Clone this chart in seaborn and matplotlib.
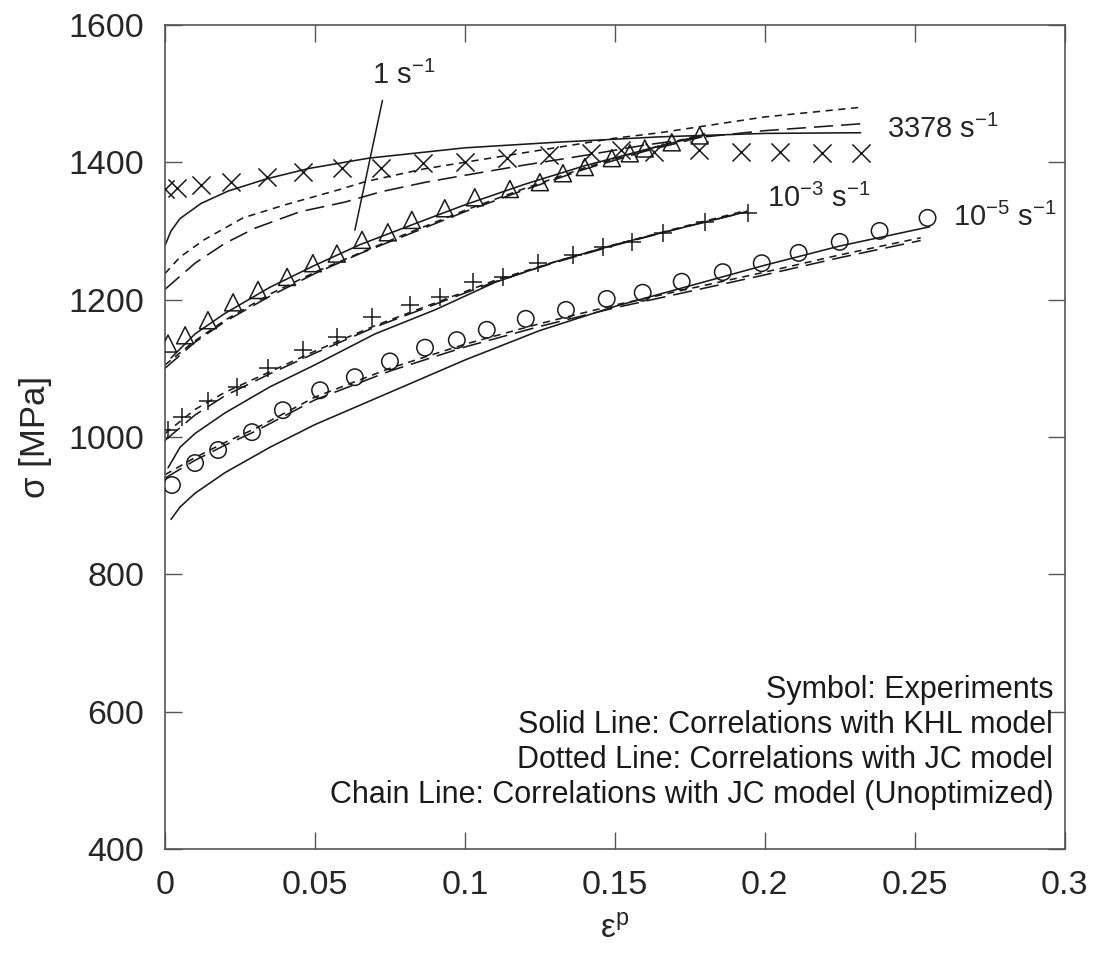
import numpy as np
import pandas as pd
import matplotlib
matplotlib.use("Agg")
import matplotlib.pyplot as plt
import seaborn as sns

# ---------------- data ----------------
# Experiments
x_3378 = [0.000, 0.004, 0.012, 0.022, 0.034, 0.046, 0.059, 0.072, 0.086, 0.100,
          0.114, 0.128, 0.142, 0.152, 0.163, 0.178, 0.192, 0.205, 0.219, 0.232]
y_3378 = [1361, 1362, 1367, 1371, 1378, 1386, 1392, 1392, 1399, 1400,
          1406, 1410, 1413, 1418, 1415, 1418, 1415, 1415, 1413, 1413]

x_1 = [0.001, 0.0067, 0.0143, 0.0227, 0.031, 0.0407, 0.0493, 0.0573, 0.0657, 0.0743, 0.0823,
       0.0933, 0.1033, 0.115, 0.125, 0.1327, 0.140, 0.149, 0.155, 0.160, 0.169, 0.1783]
y_1 = [1136, 1148, 1170, 1196, 1214, 1233, 1253, 1267, 1287, 1298, 1316,
       1333, 1349, 1361, 1371, 1384, 1393, 1406, 1413, 1420, 1429, 1439]

x_1e3 = [0.001, 0.0057, 0.0143, 0.024, 0.0343, 0.046, 0.0573, 0.069, 0.0817, 0.0917,
         0.1027, 0.1127, 0.1243, 0.136, 0.146, 0.1557, 0.166, 0.180, 0.1943]
y_1e3 = [1010, 1029, 1053, 1072, 1100, 1126, 1145, 1174, 1192, 1204,
         1225, 1233, 1253, 1265, 1276, 1284, 1297, 1313, 1326]

x_1e5 = [0.0023, 0.010, 0.0177, 0.029, 0.0393, 0.0517, 0.0633, 0.075, 0.0867, 0.0973, 0.1073,
         0.1203, 0.1337, 0.1473, 0.1593, 0.1723, 0.186, 0.199, 0.2113, 0.225, 0.2383, 0.2543]
y_1e5 = [930, 962, 981, 1007, 1039, 1068, 1087, 1110, 1130, 1141, 1156,
         1172, 1185, 1201, 1210, 1226, 1240, 1253, 1268, 1284, 1300, 1319]

# KHL model (solid)
khl_3378_x = [0.000, 0.002, 0.005, 0.012, 0.021, 0.034, 0.048, 0.068, 0.10, 0.13, 0.165, 0.20, 0.232]
khl_3378_y = [1279, 1300, 1318, 1340, 1358, 1376, 1391, 1406, 1421, 1429, 1437, 1442, 1443]
khl_1_x = [0.002, 0.01, 0.02, 0.035, 0.05, 0.065, 0.08, 0.10, 0.12, 0.14, 0.16, 0.18]
khl_1_y = [1115, 1150, 1180, 1218, 1250, 1280, 1305, 1338, 1368, 1395, 1418, 1440]
khl_1e3_x = [0.001, 0.005, 0.01, 0.02, 0.035, 0.05, 0.07, 0.09, 0.11, 0.13, 0.15, 0.17, 0.194]
khl_1e3_y = [955, 985, 1005, 1035, 1073, 1105, 1150, 1185, 1225, 1255, 1280, 1302, 1328]
khl_1e5_x = [0.002, 0.005, 0.01, 0.02, 0.035, 0.05, 0.075, 0.10, 0.125, 0.15, 0.175, 0.20, 0.225, 0.255]
khl_1e5_y = [880, 898, 918, 948, 985, 1018, 1065, 1112, 1155, 1190, 1220, 1250, 1278, 1306]

# JC model (dotted / short dashes)
jc_3378_x = [0.000, 0.005, 0.013, 0.026, 0.040, 0.058, 0.067, 0.086, 0.10, 0.12, 0.15, 0.165, 0.20, 0.232]
jc_3378_y = [1238, 1262, 1287, 1319, 1338, 1360, 1372, 1390, 1400, 1414, 1435, 1443, 1466, 1480]
jc_1_x = [0.000, 0.01, 0.02, 0.035, 0.05, 0.065, 0.08, 0.10, 0.12, 0.14, 0.16, 0.18]
jc_1_y = [1105, 1140, 1170, 1208, 1240, 1268, 1295, 1330, 1362, 1392, 1418, 1442]
jc_1e3_x = [0.000, 0.01, 0.02, 0.035, 0.05, 0.07, 0.09, 0.11, 0.13, 0.15, 0.17, 0.194]
jc_1e3_y = [1005, 1040, 1065, 1095, 1125, 1162, 1195, 1228, 1255, 1280, 1303, 1330]
jc_1e5_x = [0.000, 0.01, 0.02, 0.03, 0.05, 0.075, 0.10, 0.125, 0.15, 0.175, 0.20, 0.225, 0.252]
jc_1e5_y = [945, 970, 992, 1012, 1058, 1100, 1135, 1165, 1192, 1216, 1240, 1265, 1290]

# JC model unoptimized (chain)
ch_3378_x = [0.000, 0.010, 0.020, 0.030, 0.045, 0.060, 0.072, 0.087, 0.10, 0.12, 0.14, 0.16, 0.18, 0.20, 0.232]
ch_3378_y = [1215, 1253, 1282, 1304, 1328, 1342, 1357, 1371, 1381, 1396, 1410, 1425, 1437, 1446, 1456]
ch_1_x = [0.000, 0.01, 0.02, 0.035, 0.05, 0.065, 0.08, 0.10, 0.12, 0.14, 0.16, 0.18]
ch_1_y = [1100, 1138, 1168, 1205, 1238, 1267, 1293, 1328, 1360, 1390, 1416, 1438]
ch_1e3_x = [0.000, 0.01, 0.02, 0.035, 0.05, 0.07, 0.09, 0.11, 0.13, 0.15, 0.17, 0.194]
ch_1e3_y = [995, 1032, 1060, 1092, 1122, 1160, 1193, 1226, 1254, 1279, 1302, 1328]
ch_1e5_x = [0.000, 0.01, 0.02, 0.03, 0.05, 0.075, 0.10, 0.125, 0.15, 0.175, 0.20, 0.225, 0.252]
ch_1e5_y = [940, 966, 988, 1008, 1054, 1096, 1131, 1161, 1188, 1212, 1236, 1261, 1286]

rate_labels = ["3378 s$^{-1}$", "1 s$^{-1}$", "10$^{-3}$ s$^{-1}$", "10$^{-5}$ s$^{-1}$"]
legend_lines = ["Symbol: Experiments",
                "Solid Line: Correlations with KHL model",
                "Dotted Line: Correlations with JC model",
                "Chain Line: Correlations with JC model (Unoptimized)"]
x_ticks = [0, 0.05, 0.1, 0.15, 0.2, 0.25, 0.3]
x_ticklabels = ["0", "0.05", "0.1", "0.15", "0.2", "0.25", "0.3"]
y_ticks = [400, 600, 800, 1000, 1200, 1400, 1600]

# ---------------- styling ----------------
sns.set_style("ticks")
plt.rcParams["font.family"] = ["Liberation Sans", "DejaVu Sans"]
plt.rcParams["mathtext.fontset"] = "custom"
plt.rcParams["mathtext.rm"] = "Liberation Sans"
plt.rcParams["mathtext.sf"] = "Liberation Sans"
plt.rcParams["mathtext.it"] = "Liberation Sans:italic"
plt.rcParams["mathtext.default"] = "regular"

fig = plt.figure(figsize=(10.93, 9.58), dpi=100)
ax = fig.add_axes([0.151, 0.1138, 0.823, 0.8602])

LC = "#1a1a1a"
LW = 1.15
solid = "-"
dotted = (0, (4.5, 3.5))
chain = (0, (12, 5))

line_sets = [
    (khl_3378_x, khl_3378_y, solid), (khl_1_x, khl_1_y, solid),
    (khl_1e3_x, khl_1e3_y, solid), (khl_1e5_x, khl_1e5_y, solid),
    (jc_3378_x, jc_3378_y, dotted), (jc_1_x, jc_1_y, dotted),
    (jc_1e3_x, jc_1e3_y, dotted), (jc_1e5_x, jc_1e5_y, dotted),
    (ch_3378_x, ch_3378_y, chain), (ch_1_x, ch_1_y, chain),
    (ch_1e3_x, ch_1e3_y, chain), (ch_1e5_x, ch_1e5_y, chain),
]
for xs, ys, ls in line_sets:
    df = pd.DataFrame({"x": xs, "y": ys})
    sns.lineplot(data=df, x="x", y="y", ax=ax, color=LC, linewidth=LW,
                 linestyle=ls, sort=True, estimator=None)

marker_sets = [
    (x_3378, y_3378, "x"), (x_1, y_1, "^"), (x_1e3, y_1e3, "+"), (x_1e5, y_1e5, "o"),
]
for xs, ys, mk in marker_sets:
    df = pd.DataFrame({"x": xs, "y": ys})
    if mk in ("x", "+"):
        sns.scatterplot(data=df, x="x", y="y", ax=ax, marker=mk, s=170,
                        color=LC, linewidth=1.1, zorder=3)
    else:
        sns.scatterplot(data=df, x="x", y="y", ax=ax, marker=mk,
                        s=150 if mk == "^" else 140,
                        facecolor="none", edgecolor=LC, linewidth=1.1, zorder=3)

# rate labels
fs_lab = 21
ax.text(0.2407, 1448, rate_labels[0], fontsize=fs_lab, ha="left", va="center")
ax.text(0.2007, 1347, rate_labels[2], fontsize=fs_lab, ha="left", va="center")
ax.text(0.2627, 1320, rate_labels[3], fontsize=fs_lab, ha="left", va="center")
ax.annotate("", xy=(0.0633, 1301), xytext=(0.0725, 1490),
            arrowprops=dict(arrowstyle="-", color=LC, lw=1.1, shrinkA=0, shrinkB=0))
ax.text(0.069, 1526, rate_labels[1], fontsize=fs_lab, ha="left", va="center")

# explanation text
ax.text(0.2962, 654, "\n".join(legend_lines), fontsize=22, ha="right", va="top",
        linespacing=1.23, color="#1a1a1a")

ax.set_xlim(0, 0.3)
ax.set_ylim(400, 1600)
ax.set_xticks(x_ticks)
ax.set_xticklabels(x_ticklabels)
ax.set_yticks(y_ticks)
ax.tick_params(direction="in", length=12, width=1.0, color="#555555",
               labelsize=24.5, top=True, right=True, pad=15)
for sp in ax.spines.values():
    sp.set_color("#555555")
    sp.set_linewidth(1.2)
ax.set_xlabel("ε$^{\\mathrm{p}}$", fontsize=24, labelpad=10)
ax.set_ylabel("σ [MPa]", fontsize=25, labelpad=12)

fig.savefig("out.png", dpi=100)
